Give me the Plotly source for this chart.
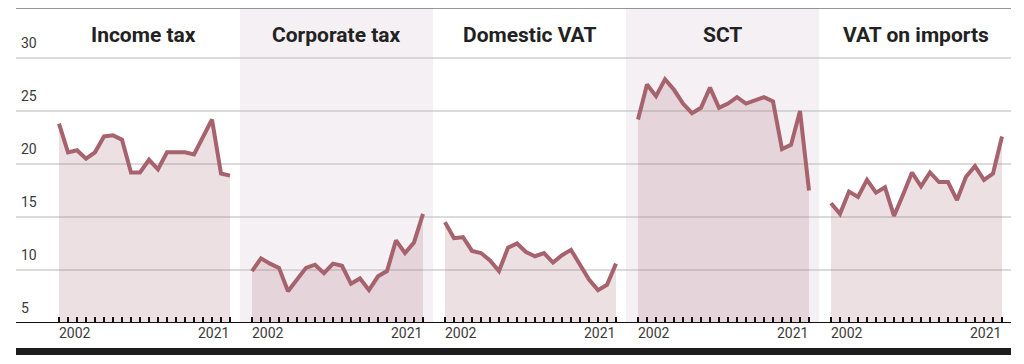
import plotly.graph_objects as go

# ---------------- data ----------------
YEARS = list(range(2002, 2022))
TITLES = ["Income tax", "Corporate tax", "Domestic VAT", "SCT", "VAT on imports"]

INCOME_TAX = [23.8, 21.1, 21.3, 20.5, 21.1, 22.6, 22.7, 22.3, 19.2, 19.2,
              20.4, 19.5, 21.1, 21.1, 21.1, 20.9, 22.6, 24.2, 19.1, 18.9]
CORPORATE_TAX = [9.9, 11.1, 10.6, 10.2, 8.0, 9.1, 10.2, 10.5, 9.7, 10.6,
                 10.4, 8.7, 9.2, 8.1, 9.4, 9.9, 12.8, 11.6, 12.6, 15.3]
DOMESTIC_VAT = [14.5, 13.0, 13.1, 11.8, 11.6, 10.9, 9.9, 12.1, 12.5, 11.7,
                11.3, 11.6, 10.7, 11.4, 11.9, 10.5, 9.1, 8.1, 8.6, 10.6]
SCT = [24.2, 27.5, 26.4, 28.0, 27.0, 25.7, 24.8, 25.3, 27.2, 25.3,
       25.7, 26.3, 25.7, 26.0, 26.3, 25.9, 21.4, 21.8, 25.0, 17.5]
VAT_IMPORTS = [16.3, 15.3, 17.4, 16.9, 18.5, 17.3, 17.8, 15.1, 17.1, 19.2,
               17.9, 19.2, 18.3, 18.3, 16.6, 18.8, 19.8, 18.5, 19.1, 22.6]

SERIES = [INCOME_TAX, CORPORATE_TAX, DOMESTIC_VAT, SCT, VAT_IMPORTS]
Y_TICKS = [5, 10, 15, 20, 25, 30]
X_TICK_LABELS = [2002, 2021]
SHADED_PANELS = [2, 4]

# ---------------- style / geometry ----------------
PAGE_MARGIN = 8            # default browser body margin
W, H = 1024 - PAGE_MARGIN, 364 - PAGE_MARGIN
LINE_COLOR = "rgb(166,99,110)"
FILL_COLOR = "rgba(166,99,110,0.2)"
PANEL_BG = "#f5f0f4"
GRID_COLOR = "#b8b8b8"
TEXT_COLOR = "#3a3a3a"
FONT = "Roboto"

PLOT_LEFT_PX = 47
PANEL_W_PX = 193
PLOT_TOP_PX = 8
PLOT_BOTTOM_PX = 323
PX_PER_UNIT = 10.6
PX_PER_YEAR = 9.0
DATA_PAD_PX = 12
LINE_X0_PX, LINE_X1_PX = 16, 1011


def fx(p):
    return (p - PAGE_MARGIN) / W


def fy(p):
    return 1 - (p - PAGE_MARGIN) / H


y_max = Y_TICKS[0] + (PLOT_BOTTOM_PX - PLOT_TOP_PX) / PX_PER_UNIT
x_lo = YEARS[0] - DATA_PAD_PX / PX_PER_YEAR
x_hi = x_lo + PANEL_W_PX / PX_PER_YEAR

fig = go.Figure()
layout = dict(
    width=W, height=H,
    margin=dict(l=0, r=0, t=0, b=0),
    paper_bgcolor="white", plot_bgcolor="rgba(0,0,0,0)",
    showlegend=False,
    font=dict(family=FONT, color=TEXT_COLOR),
    yaxis=dict(domain=[fy(PLOT_BOTTOM_PX), fy(PLOT_TOP_PX)], range=[Y_TICKS[0], y_max],
               showgrid=False, zeroline=False, showticklabels=False, showline=False,
               anchor="x", fixedrange=True),
)

shapes = []
annotations = []

for i, (title, vals) in enumerate(zip(TITLES, SERIES)):
    k = i + 1
    xname = "x" if k == 1 else f"x{k}"
    axkey = "xaxis" if k == 1 else f"xaxis{k}"
    x0p = PLOT_LEFT_PX + PANEL_W_PX * i
    layout[axkey] = dict(
        domain=[fx(x0p), fx(x0p + PANEL_W_PX)], range=[x_lo, x_hi], anchor="y",
        tickvals=YEARS, ticks="inside", ticklen=6, tickwidth=1.8, tickcolor="#111",
        showticklabels=False, showgrid=False, zeroline=False, showline=False,
        fixedrange=True,
    )
    fig.add_trace(go.Scatter(
        x=YEARS, y=vals, xaxis=xname, yaxis="y", mode="lines",
        line=dict(color=LINE_COLOR, width=4), fill="tozeroy", fillcolor=FILL_COLOR,
        hoverinfo="skip",
    ))
    if k in SHADED_PANELS:
        shapes.append(dict(type="rect", xref=f"{xname} domain", yref="y domain",
                           x0=0, x1=1, y0=0, y1=1, fillcolor=PANEL_BG,
                           line=dict(width=0), layer="below"))
    annotations.append(dict(text=f"<b>{title}</b>", xref=f"{xname} domain", x=0.5,
                            yref="paper", y=fy(35), xanchor="center", yanchor="middle",
                            showarrow=False, font=dict(size=21, color="#222", family=FONT)))
    for j, yr in enumerate(X_TICK_LABELS):
        annotations.append(dict(text=str(yr), xref=xname, x=yr, yref="paper", y=fy(333),
                                xanchor="left" if j == 0 else "right", yanchor="middle",
                                xshift=-2 if j == 0 else 1,
                                showarrow=False, font=dict(size=14, color=TEXT_COLOR)))

# gridlines
for v in Y_TICKS[1:]:
    shapes.append(dict(type="line", xref="paper", yref="y", x0=fx(LINE_X0_PX), x1=fx(LINE_X1_PX),
                       y0=v, y1=v, line=dict(color=GRID_COLOR, width=1.2), layer="below"))
# y labels
for v in Y_TICKS:
    annotations.append(dict(text=str(v), xref="paper", x=fx(19), yref="y", y=v,
                            xanchor="left", yanchor="middle", yshift=15, showarrow=False,
                            font=dict(size=14, color=TEXT_COLOR)))
# baseline
shapes.append(dict(type="line", xref="paper", yref="y", x0=fx(LINE_X0_PX), x1=fx(LINE_X1_PX),
                   y0=Y_TICKS[0], y1=Y_TICKS[0], line=dict(color="#111", width=2), layer="above"))
# top rule
shapes.append(dict(type="line", xref="paper", yref="paper", x0=fx(LINE_X0_PX), x1=fx(LINE_X1_PX),
                   y0=fy(7.5), y1=fy(7.5), line=dict(color="#333", width=2), layer="above"))
# bottom bar
shapes.append(dict(type="rect", xref="paper", yref="paper", x0=fx(LINE_X0_PX), x1=fx(LINE_X1_PX),
                   y0=fy(355), y1=fy(348), fillcolor="#1c1c1c", line=dict(width=0), layer="above"))

layout["shapes"] = shapes
layout["annotations"] = annotations
fig.update_layout(**layout)
fig.write_html("out.html")
